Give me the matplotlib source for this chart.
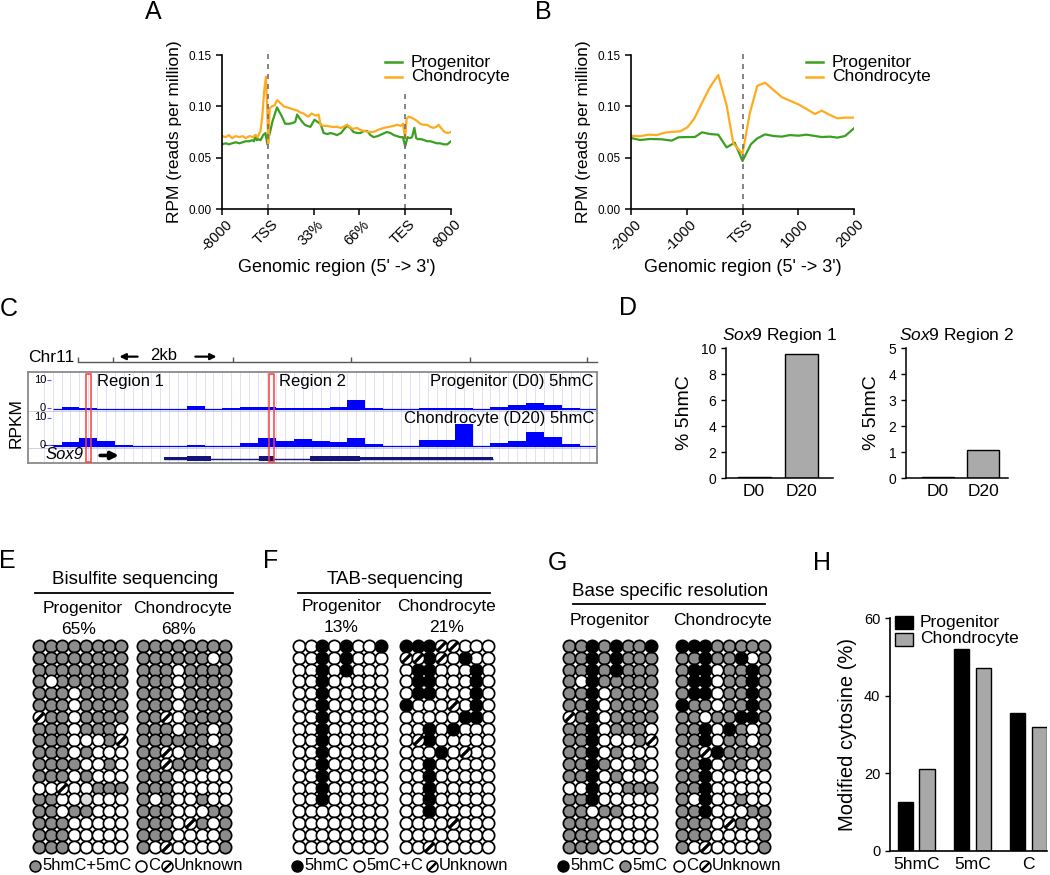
import numpy as np
import matplotlib
matplotlib.use('Agg')
import matplotlib.pyplot as plt
from matplotlib.patches import Rectangle
from matplotlib.transforms import ScaledTranslation

plt.rcParams['font.family'] = ['Liberation Sans', 'DejaVu Sans']
plt.rcParams['mathtext.fontset'] = 'custom'
plt.rcParams['mathtext.it'] = 'Liberation Sans:italic'
plt.rcParams['mathtext.rm'] = 'Liberation Sans'

GREEN = '#3aa020'
ORANGE = '#ffab1f'
GRAY = '#8c8c8c'

# ---------------- data ----------------
# A: metagene profile, x in units of tick slots (-8000, TSS, 33%, 66%, TES, 8000)
a_ticks = ['-8000', 'TSS', '33%', '66%', 'TES', '8000']
a_chon_x = [0, 0.08, 0.15, 0.22, 0.3, 0.38, 0.45, 0.52, 0.6,
            0.68, 0.73, 0.78, 0.84, 0.88, 0.92, 0.96, 0.99, 1.01,
            1.04, 1.09, 1.15, 1.2, 1.28, 1.35, 1.42, 1.49, 1.56,
            1.64, 1.71, 1.78, 1.84, 1.89, 1.95, 2.0, 2.05, 2.11,
            2.15, 2.22, 2.29, 2.4, 2.5, 2.6, 2.73, 2.85, 2.95,
            3.02, 3.1, 3.2, 3.31, 3.4, 3.53, 3.65, 3.75, 3.82,
            3.9, 3.95, 4.0, 4.03, 4.08, 4.13, 4.18, 4.25, 4.33,
            4.4, 4.48, 4.55, 4.62, 4.68, 4.73, 4.8, 4.86, 4.93,
            5.0]
a_chon_y = [0.071, 0.070, 0.072, 0.069, 0.071, 0.070, 0.071, 0.069, 0.071,
            0.070, 0.072, 0.070, 0.076, 0.090, 0.115, 0.129, 0.095, 0.064,
            0.098, 0.100, 0.101, 0.106, 0.103, 0.100, 0.099, 0.098, 0.097,
            0.096, 0.094, 0.093, 0.091, 0.090, 0.093, 0.092, 0.091, 0.092,
            0.082, 0.081, 0.081, 0.080, 0.080, 0.079, 0.082, 0.078, 0.079,
            0.077, 0.076, 0.075, 0.075, 0.077, 0.079, 0.080, 0.081, 0.082,
            0.081, 0.083, 0.069, 0.088, 0.090, 0.089, 0.088, 0.086, 0.083,
            0.082, 0.082, 0.080, 0.079, 0.080, 0.082, 0.078, 0.075, 0.074,
            0.075]
a_prog_x = [0, 0.08, 0.15, 0.22, 0.3, 0.38, 0.45, 0.52, 0.6,
            0.66, 0.7, 0.73, 0.76, 0.8, 0.84, 0.9, 0.95, 0.99,
            1.02, 1.06, 1.1, 1.15, 1.2, 1.26, 1.31, 1.38, 1.47,
            1.56, 1.6, 1.64, 1.7, 1.75, 1.81, 1.86, 1.93, 2.02,
            2.08, 2.15, 2.22, 2.3, 2.37, 2.45, 2.51, 2.6, 2.67,
            2.73, 2.8, 2.87, 2.95, 3.02, 3.1, 3.17, 3.24, 3.31,
            3.4, 3.5, 3.6, 3.68, 3.75, 3.82, 3.89, 3.95, 4.0,
            4.05, 4.1, 4.15, 4.2, 4.24, 4.28, 4.35, 4.42, 4.48,
            4.55, 4.62, 4.69, 4.76, 4.84, 4.92, 5.0]
a_prog_y = [0.063, 0.064, 0.063, 0.064, 0.065, 0.064, 0.065, 0.066, 0.066,
            0.067, 0.066, 0.072, 0.067, 0.068, 0.067, 0.072, 0.074, 0.063,
            0.070, 0.077, 0.085, 0.092, 0.099, 0.094, 0.090, 0.083, 0.083,
            0.084, 0.085, 0.092, 0.088, 0.085, 0.082, 0.081, 0.080, 0.087,
            0.085, 0.083, 0.074, 0.073, 0.074, 0.073, 0.072, 0.074, 0.078,
            0.081, 0.079, 0.075, 0.074, 0.074, 0.076, 0.076, 0.072, 0.070,
            0.071, 0.073, 0.075, 0.074, 0.072, 0.071, 0.070, 0.070, 0.061,
            0.070, 0.069, 0.070, 0.079, 0.069, 0.068, 0.068, 0.067, 0.066,
            0.066, 0.065, 0.064, 0.064, 0.063, 0.063, 0.066]

# B: TSS-centred profile (bp)
b_chon_x = [-2000, -1840, -1690, -1540, -1390, -1240, -1120, -990, -865, -730,
            -585, -435, -285, -165, 0, 130, 265, 405, 555, 705,
            850, 1000, 1150, 1300, 1420, 1570, 1700, 1840, 2000]
b_chon_y = [0.0714, 0.0708, 0.0724, 0.0720, 0.0744, 0.0753, 0.0756, 0.0795, 0.0880, 0.1030,
            0.1185, 0.1305, 0.1010, 0.0640, 0.0536, 0.0930, 0.1200, 0.1230, 0.1160, 0.1090,
            0.1055, 0.1020, 0.0974, 0.0925, 0.0958, 0.0916, 0.0883, 0.0890, 0.0890]
b_prog_x = [-2000, -1840, -1660, -1450, -1270, -1150, -1000, -855, -725, -585,
            -435, -285, -140, 0, 150, 265, 405, 555, 705, 850,
            1000, 1150, 1300, 1420, 1570, 1700, 1840, 2000]
b_prog_y = [0.0692, 0.0672, 0.0682, 0.0679, 0.0666, 0.0698, 0.0701, 0.0701, 0.0747, 0.0730,
            0.0724, 0.0600, 0.0646, 0.0468, 0.0630, 0.0688, 0.0727, 0.0711, 0.0705, 0.0720,
            0.0714, 0.0724, 0.0711, 0.0701, 0.0705, 0.0695, 0.0711, 0.0786]
b_ticks = ['-2000', '-1000', 'TSS', '1000', '2000']

# C: browser tracks (RPKM per bin), gene model (kb)
prog_rpkm = [0.1, 0.7, 0.35, 0.0, 0.2, 0.0, 0.2, 0.0, 1.1, 0.0, 0.45, 0.65, 0.8, 0.5, 0.4, 0.4,
             0.8, 3.0, 0.4, 0.0, 0.0, 0.5, 0.5, 0.3, 0.0, 0.7, 1.3, 2.0, 1.3, 0.3, 0.15]
chon_rpkm = [0.4, 1.4, 2.8, 1.9, 0.5, 0.0, 0.0, 0.0, 0.5, 0.0, 0.0, 1.1, 2.8, 2.0, 2.6, 2.0,
             1.6, 2.8, 0.9, 0.0, 0.0, 2.2, 2.4, 7.8, 0.0, 1.3, 2.0, 5.0, 3.3, 0.7, 0.2]
exon_start = [2.69, 3.14, 4.56, 5.58, 6.55]
exon_end = [3.14, 3.62, 4.86, 6.55, 9.18]
exon_thick = [False, True, True, True, False]
regions_kb = [(1.15, 1.25), (4.76, 4.86)]
ruler_ticks_kb = [0.98, 1.67, 4.04, 6.38, 8.73, 11.05]

# D: % 5hmC at Sox9 regions
d_cats = ['D0', 'D20']
d_region1 = [0.08, 9.55]
d_region2 = [0.05, 1.07]

# E/F/G: CpG grids (G=5hmC+5mC / 5mC, W=C, B=5hmC, U=unknown, L=light)
e_prog = ["GGGGGGGG", "GGGGGGGG", "GGGGGGGG", "GWGGGGGG", "GGGWGGGG", "GGGWGGGG",
          "UGGWGGGG", "GGGWGGGW", "GGGWWWGU", "GGGWGWWW", "GGGGWWGW", "GGGWGWWW",
          "WWUWWGGG", "GGWWLWWW", "GGWGGWWW", "GGGWWWWW", "GGGWWWWW", "GGGWWWWW"]
e_chon = ["GGGGGGGG", "GGGGGGWG", "GGGWGGGG", "GGGWGGGG", "GGGWGGGG", "GGGWGGGG",
          "GGUWGGGG", "GGGWGGWG", "GGGGGGWG", "GGUWGGGG", "GGUGGGWG", "GGGWWWWW",
          "GGGWWWWW", "GWGWWGWW", "GGGWWWGG", "GGGWUGWG", "GGGWWWWG", "GWUWWWWG"]
f_prog = ["WWBWBWWB", "WWBWBWWW", "WWBWBWWW", "WWBWWWWW", "WWBWWWWW", "WWBWWWWW",
          "WWBWWWWW", "WWBWWWWW", "WWBWWWWW", "WWBWWWWW", "WWBWWWWW", "WWBWWWWW",
          "WWBWWWWW", "WWBWWWWW", "WWWWWWWW", "WWWWWWWW", "WWWWWWWW", "WWWWWWWW"]
f_chon = ["BBBUUWWW", "UUBUWBWW", "WBBWWWBW", "WBBWWWBW", "WBBWWWBW", "BWWWUWBW",
          "WWWWWBBW", "WWBWBWWW", "WUBWWWWW", "WWWBWUWW", "WWBWWWWW", "WWBWWWWW",
          "WWBWWWWW", "WWBWWWWW", "WWBWWWWW", "WWWWUWWW", "WWWWWWWW", "WWUWWWWW"]
g_prog = ["GGBGBGGB", "GGBGBGGG", "GGBGBGGG", "GWBGGGGG", "GGBWGGGG", "GGBWGGGG",
          "UGBWGGGG", "GGBWGGGW", "GGBWWWGU", "GGBWGWWW", "GGBGWWGW", "GGBWGWWW",
          "WWBWWGGG", "GGBWWWWW", "GGWGGWWW", "GGGWWWWW", "GGGWWWWW", "GGGWWWWW"]
g_chon = ["BBBGGGGG", "GGBGGBWG", "GBBWGGBG", "GBBWGGBG", "GBBWGGBG", "BGGWGGBG",
          "GGWGGBBG", "GGBWBGWG", "GGBWGGWG", "GGUBGGGG", "GGBWGGWG", "GGBWWWWW",
          "GGBWWWWW", "GWBWWGWW", "GGBWWWGG", "GGGWUGWG", "GGGWWWWG", "GWUWWWWG"]

# H: modified cytosine (%)
h_cats = ['5hmC', '5mC', 'C']
h_prog = [12.5, 52.0, 35.5]
h_chon = [21.0, 47.0, 32.0]

# ---------------- figure ----------------
W, H = 1050, 875
fig = plt.figure(figsize=(10.5, 8.75), dpi=100)


def add_ax(l, t, r, b):
    return fig.add_axes([l / W, 1 - b / H, (r - l) / W, (b - t) / H])


def clean(ax, lw=1.2):
    ax.spines['top'].set_visible(False)
    ax.spines['right'].set_visible(False)
    ax.spines['left'].set_linewidth(lw)
    ax.spines['bottom'].set_linewidth(lw)


def profile_axes(ax):
    clean(ax)
    ax.set_ylim(0, 0.15)
    ax.set_yticks([0, 0.05, 0.10, 0.15])
    ax.set_yticklabels(['0.00', '0.05', '0.10', '0.15'], fontsize=8.5)
    ax.tick_params(direction='out', length=4, width=1.1)
    ax.tick_params(axis='x', pad=2)
    ax.set_ylabel('RPM (reads per million)', fontsize=12.5, labelpad=5)
    ax.set_xlabel("Genomic region (5' -> 3')", fontsize=13, labelpad=4)
    off = ScaledTranslation(0.03, 0, fig.dpi_scale_trans)
    for lab in ax.get_xticklabels():
        lab.set_rotation(45)
        lab.set_ha('right')
        lab.set_va('top')
        lab.set_rotation_mode('anchor')
        lab.set_fontsize(10.5)
        lab.set_transform(lab.get_transform() + off)


# A
axa = add_ax(222, 55, 451, 209)
axa.plot(a_prog_x, a_prog_y, color=GREEN, lw=1.6)
axa.plot(a_chon_x, a_chon_y, color=ORANGE, lw=1.6)
axa.vlines(1, 0, 0.151, colors='#707070', linestyles=(0, (3, 3)), lw=1.2, clip_on=False)
axa.vlines(4, 0, 0.115, colors='#707070', linestyles=(0, (3, 3)), lw=1.2)
axa.set_xlim(0, 5)
axa.set_xticks(range(6))
axa.set_xticklabels(a_ticks)
profile_axes(axa)

# B
axb = add_ax(631, 55, 854, 209)
axb.plot(b_prog_x, b_prog_y, color=GREEN, lw=1.6)
axb.plot(b_chon_x, b_chon_y, color=ORANGE, lw=1.6)
axb.vlines(0, 0, 0.151, colors='#707070', linestyles=(0, (3, 3)), lw=1.2, clip_on=False)
axb.set_xlim(-2000, 2000)
axb.set_xticks([-2000, -1000, 0, 1000, 2000])
axb.set_xticklabels(b_ticks)
profile_axes(axb)

# C
bin_start, bin_kb = 0.31, 0.353
prog_base = 12.9
axc = add_ax(28, 372, 597, 463)
axc.set_xlim(0, 11.24)
axc.set_ylim(-5.7, 25.7)
axc.set_xticks([])
axc.set_yticks([])
for s in axc.spines.values():
    s.set_color('#8a8a8a')
    s.set_linewidth(1.3)
for gx in np.arange(bin_start, 11.24, bin_kb / 2):
    axc.axvline(gx, color='#dcdcf2', lw=0.6, zorder=0)
edges = bin_start + bin_kb * np.arange(len(prog_rpkm))
axc.bar(edges, prog_rpkm, width=bin_kb, align='edge', bottom=prog_base, color='#0000ff', lw=0, zorder=2)
axc.bar(edges, chon_rpkm, width=bin_kb, align='edge', bottom=0, color='#0000ff', lw=0, zorder=2)
axc.hlines([prog_base, 0], 0.5, 11.24, color='#0000ff', lw=0.9, zorder=2)
axc.hlines([prog_base - 0.5, -0.6], 0, 11.24, color='#c8c8d8', lw=0.6, zorder=1)
for base in (prog_base, 0):
    axc.text(0.36, base + 10, '10', ha='right', va='center', fontsize=8)
    axc.text(0.36, base + 0.4, '0', ha='right', va='center', fontsize=8)
    axc.hlines([base + 10, base + 0.4], 0.38, 0.46, color='#5a5aff', lw=0.8)
axc.text(-0.24, 8.0, 'RPKM', rotation=90, ha='center', va='center', fontsize=12.5, clip_on=False)
for r0, r1 in regions_kb:
    axc.add_patch(Rectangle((r0, -5.5), r1 - r0, 30.4, fill=False, ec='#ff3b3b', lw=1.1, zorder=4))
axc.text(1.36, 22.4, 'Region 1', fontsize=12, va='center', zorder=5)
axc.text(4.96, 22.4, 'Region 2', fontsize=12, va='center', zorder=5)
axc.text(11.18, 22.4, 'Progenitor (D0) 5hmC', fontsize=12, ha='right', va='center', zorder=5)
axc.text(11.18, 9.6, 'Chondrocyte (D20) 5hmC', fontsize=12, ha='right', va='center', zorder=5)
axc.hlines(-4.3, exon_start[0], exon_end[-1], color='#14147a', lw=1.0, zorder=3)
for x0, x1, thick in zip(exon_start, exon_end, exon_thick):
    h = 1.7 if thick else 1.0
    axc.add_patch(Rectangle((x0, -4.3 - h / 2), x1 - x0, h, color='#14147a', lw=0, zorder=3))
axc.text(0.34, -2.9, 'Sox9', fontstyle='italic', fontsize=12, va='center', zorder=5)
axc.annotate('', xy=(1.85, -3.1), xytext=(1.37, -3.1),
             arrowprops=dict(arrowstyle='-|>', lw=2.6, color='black', mutation_scale=11))
# ruler above the box
axc.plot([0.98, 11.24], [29.0, 29.0], color='#555555', lw=1.0, clip_on=False)
axc.vlines(ruler_ticks_kb, 29.0, 30.9, color='#555555', lw=1.0, clip_on=False)
axc.text(0.0, 30.6, 'Chr11', fontsize=12.5, va='center', clip_on=False)
axc.text(2.68, 31.3, '2kb', fontsize=12, ha='center', va='center', clip_on=False)
axc.annotate('', xy=(1.75, 31.0), xytext=(2.22, 31.0), annotation_clip=False,
             arrowprops=dict(arrowstyle='-|>', lw=1.6, color='black', mutation_scale=9))
axc.annotate('', xy=(3.78, 31.0), xytext=(3.25, 31.0), annotation_clip=False,
             arrowprops=dict(arrowstyle='-|>', lw=1.6, color='black', mutation_scale=9))


# D
def d_axes(ax, vals, ymax, title, xlim):
    clean(ax, 1.1)
    ax.bar([0, 1], vals, width=0.7, color=['#aaaaaa', '#aaaaaa'], edgecolor='black', lw=1.0)
    ax.set_xlim(*xlim)
    ax.set_ylim(0, ymax)
    ax.set_xticks([0, 1])
    ax.set_xticklabels(d_cats, fontsize=12.5)
    ax.tick_params(axis='x', length=0, pad=4)
    ax.tick_params(axis='y', direction='out', length=3.5, width=1, labelsize=10)
    ax.set_ylabel('% 5hmC', fontsize=14, labelpad=6)
    ax.set_title(title, fontsize=12.5, pad=6)


axd1 = add_ax(726, 348, 833, 478)
d_axes(axd1, d_region1, 10, r'$\mathit{Sox9}$ Region 1', (-0.6, 1.68))
axd1.set_yticks([0, 2, 4, 6, 8, 10])
axd2 = add_ax(906, 348, 1008, 478)
d_axes(axd2, d_region2, 5, r'$\mathit{Sox9}$ Region 2', (-0.7, 1.55))
axd2.set_yticks([0, 1, 2, 3, 4, 5])

# E / F / G grids
CELL = {'G': GRAY, 'W': 'white', 'B': 'black', 'L': '#dcdcdc', 'U': 'white'}


def draw_grid(left, rows):
    ax = add_ax(left, 640.1, left + 93.6, 640.1 + 11.8 * len(rows))
    ax.set_xlim(-0.5, 7.5)
    ax.set_ylim(len(rows) - 0.5, -0.5)
    ax.axis('off')
    for code, fc in CELL.items():
        pts = [(c, r) for r, row in enumerate(rows) for c, ch in enumerate(row) if ch == code]
        if pts:
            xs, ys = zip(*pts)
            ax.scatter(xs, ys, s=78, c=fc, edgecolors='black', linewidths=1.25, zorder=2, clip_on=False)
    pts = [(c, r) for r, row in enumerate(rows) for c, ch in enumerate(row) if ch == 'U']
    if pts:
        xs, ys = zip(*pts)
        ax.scatter(xs, ys, s=52, marker=(2, 2, -45), c='black', linewidths=1.9, zorder=3, clip_on=False)


draw_grid(33.15, e_prog)
draw_grid(137.15, e_chon)
draw_grid(293.15, f_prog)
draw_grid(400.15, f_chon)
draw_grid(563.15, g_prog)
draw_grid(676.15, g_chon)

# H
axh = add_ax(890, 618, 1047, 851)
clean(axh, 1.2)
xh = np.arange(len(h_cats))
axh.bar(xh - 0.19, h_prog, width=0.27, color='black', edgecolor='black', lw=1.0)
axh.bar(xh + 0.19, h_chon, width=0.27, color='#a8a8a8', edgecolor='black', lw=1.0)
axh.set_xlim(-0.47, 2.33)
axh.set_ylim(0, 60)
axh.set_yticks([0, 20, 40, 60])
axh.set_xticks(xh)
axh.set_xticklabels(h_cats, fontsize=12.5)
axh.tick_params(axis='x', length=0, pad=4)
axh.tick_params(axis='y', direction='out', length=3.5, width=1, labelsize=10.5)
axh.set_ylabel('Modified cytosine (%)', fontsize=14.5, labelpad=5)

# ---------------- overlay: labels, headers, legends ----------------
ov = fig.add_axes([0, 0, 1, 1])
ov.set_xlim(0, W)
ov.set_ylim(H, 0)
ov.axis('off')

for lab, x, y in [('A', 153, 12), ('B', 543, 12), ('C', 9, 309), ('D', 628, 308),
                  ('E', 7, 561), ('F', 271, 561), ('G', 557, 563), ('H', 822, 563)]:
    ov.text(x, y, lab, fontsize=18, ha='center', va='center')

# A / B legends
for x0 in (385, 806):
    ov.plot([x0, x0 + 17], [62, 62], color=GREEN, lw=1.8)
    ov.plot([x0, x0 + 17], [77, 77], color=ORANGE, lw=1.8)
    ov.text(x0 + 26, 62, 'Progenitor', fontsize=12.5, va='center')
    ov.text(x0 + 26, 77, 'Chondrocyte', fontsize=12.5, va='center')

# H legend
ov.add_patch(Rectangle((895, 616), 18, 13, fc='black', ec='black', lw=1))
ov.add_patch(Rectangle((895, 633), 18, 13, fc='#a8a8a8', ec='black', lw=1))
ov.text(920, 622, 'Progenitor', fontsize=12.5, va='center')
ov.text(920, 639, 'Chondrocyte', fontsize=12.5, va='center')

# grid headers
hdr = 12.5
ov.text(135, 579, 'Bisulfite sequencing', fontsize=13.5, ha='center', va='center')
ov.plot([35, 233], [593, 593], color='black', lw=1.3)
ov.text(83, 608, 'Progenitor', fontsize=hdr, ha='center', va='center')
ov.text(183, 608, 'Chondrocyte', fontsize=hdr, ha='center', va='center')
ov.text(79, 630, '65%', fontsize=hdr, ha='center', va='center')
ov.text(179, 630, '68%', fontsize=hdr, ha='center', va='center')

ov.text(395, 580, 'TAB-sequencing', fontsize=13.5, ha='center', va='center')
ov.plot([298, 490], [593, 593], color='black', lw=1.3)
ov.text(342, 606, 'Progenitor', fontsize=hdr, ha='center', va='center')
ov.text(447, 606, 'Chondrocyte', fontsize=hdr, ha='center', va='center')
ov.text(341, 627, '13%', fontsize=hdr, ha='center', va='center')
ov.text(447, 627, '21%', fontsize=hdr, ha='center', va='center')

ov.text(670, 592, 'Base specific resolution', fontsize=13.5, ha='center', va='center')
ov.plot([573, 765], [604, 604], color='black', lw=1.3)
ov.text(610, 620, 'Progenitor', fontsize=hdr, ha='center', va='center')
ov.text(722, 620, 'Chondrocyte', fontsize=hdr, ha='center', va='center')

# grid legends
leg_y = 866
for cx, fc in [(35, GRAY), (141, 'white'), (167, 'white'),
               (297, 'black'), (359, 'white'), (432, 'white'),
               (563, 'black'), (625, GRAY), (679, 'white'), (705, 'white')]:
    ov.scatter([cx], [leg_y], s=62, c=fc, edgecolors='black', linewidths=1.1, zorder=3)
ov.scatter([167, 432, 705], [leg_y] * 3, s=40, marker=(2, 2, -45), c='black', linewidths=1.5, zorder=4)
for x, t in [(42, '5hmC+5mC'), (148, 'C'), (174, 'Unknown'),
             (304, '5hmC'), (366, '5mC+C'), (439, 'Unknown'),
             (570, '5hmC'), (632, '5mC'), (686, 'C'), (712, 'Unknown')]:
    ov.text(x, leg_y, t, fontsize=12, va='center')

fig.savefig('out.png', dpi=100)
